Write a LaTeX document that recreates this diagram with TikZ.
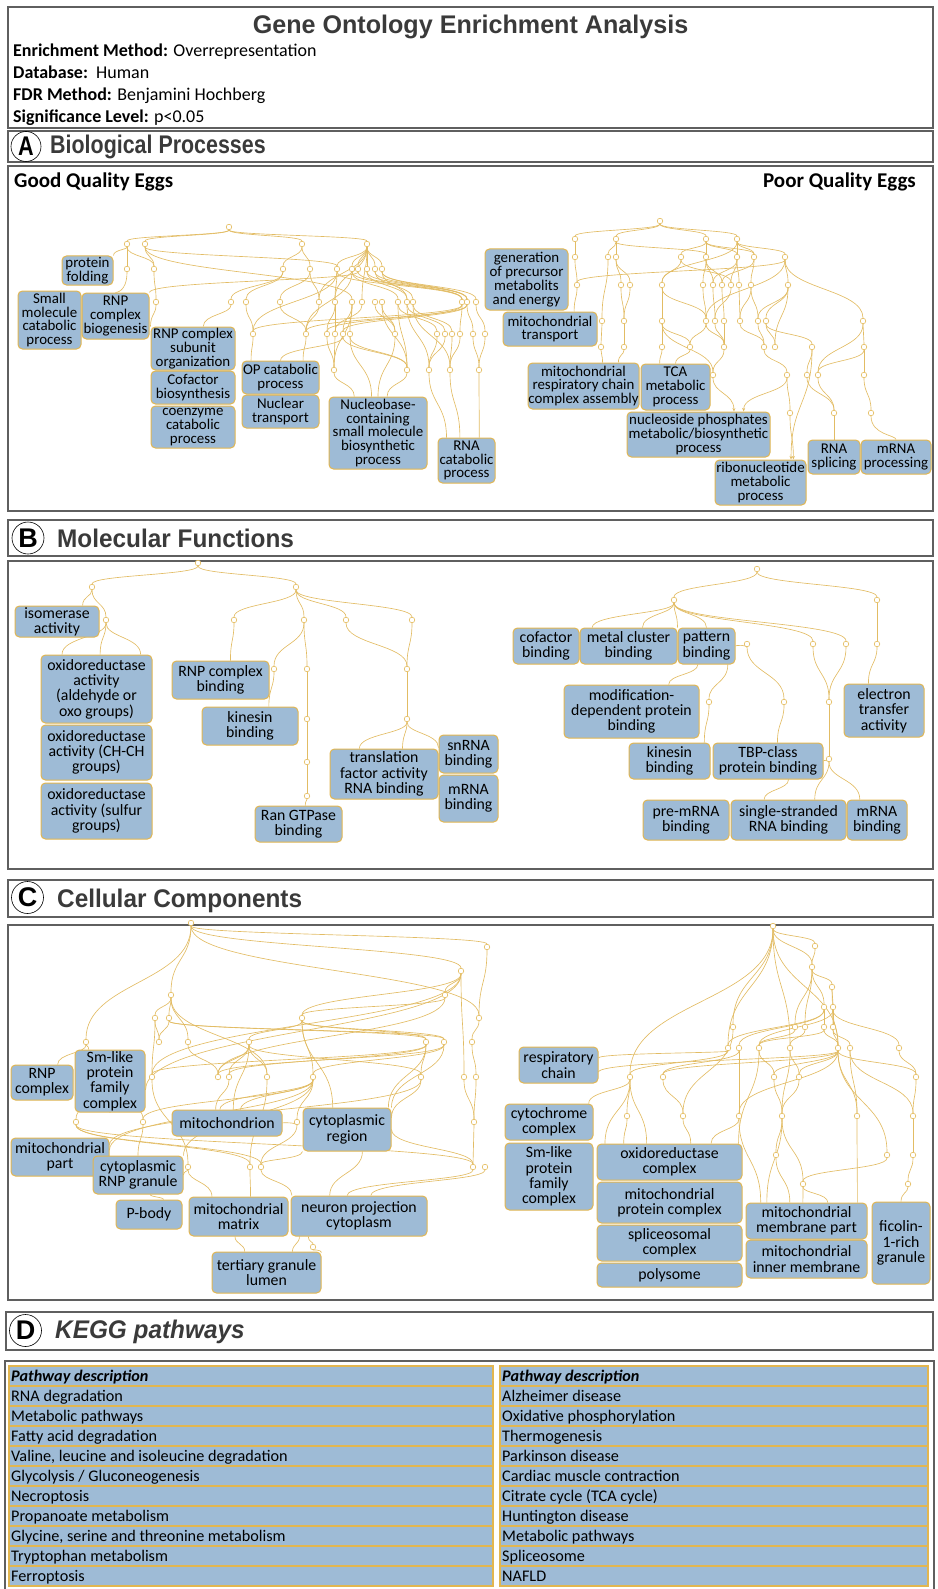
\documentclass[tikz,border=0pt]{standalone}
\usepackage{fontspec}
\setmainfont{Carlito}
\newfontfamily\hfont{Liberation Sans}
\usetikzlibrary{calc,arrows.meta}
\definecolor{boxblue}{RGB}{158,187,214}
\definecolor{boxgold}{RGB}{226,182,80}
\definecolor{edgegold}{RGB}{226,188,100}
\definecolor{framegray}{RGB}{95,95,95}
\definecolor{headgray}{RGB}{58,58,58}
\pgfdeclarelayer{edgelayer}
\pgfsetlayers{edgelayer,main}
\tikzset{
 secframe/.style={draw=framegray, line width=1.3pt},
 gobox/.style={fill=boxblue, draw=boxgold, line width=1pt, rounded corners=4.5pt, align=center, inner sep=0pt},
 boxA/.style={gobox, font=\fontsize{14.9}{13.8}\selectfont},
 boxB/.style={gobox, font=\fontsize{15.8}{15.3}\selectfont},
 cir/.style={circle, draw=boxgold, fill=white, line width=0.55pt, inner sep=0pt, minimum size=5.6pt},
 ed/.style={draw=edgegold, line width=0.65pt},
 edar/.style={ed, -{Stealth[length=3.5pt,width=3pt]}},
 letter/.style={circle, draw=black, line width=0.6pt, inner sep=0pt, minimum size=30pt, font=\hfont\bfseries\fontsize{27}{27}\selectfont},
 heading/.style={anchor=base west, inner sep=0pt, text=headgray, font=\hfont\bfseries\fontsize{25.5}{25.5}\selectfont},
 info/.style={anchor=base west, inner sep=0pt, font=\fontsize{18}{18}\selectfont},
 kegg/.style={anchor=base west, inner sep=0pt, font=\fontsize{16.2}{16.2}\selectfont},
}
\newcommand\gbx[6]{\node[#1, minimum width=#4pt, minimum height=#5pt] (#2) at (#3) {#6};}
\newcommand\cirs[1]{\foreach \cn/\cx/\cy in {#1} {\node[cir] (\cn) at (\cx,\cy) {};}}
\newcommand\eds[2][ed]{\foreach \ea/\eb in {#2} {\draw[#1] (\ea) .. controls ($(\ea)!0.5!(\ea |- \eb)$) and ($(\eb)!0.5!(\eb |- \ea)$) .. (\eb);}}
\begin{document}
\begin{tikzpicture}[x=1pt,y=-1pt]
\useasboundingbox (0,0) rectangle (937,1589);
% ---------- frames ----------
\draw[secframe] (8,7) rectangle (933,128);
\draw[secframe] (8,131) rectangle (933,162);
\draw[secframe] (8,166) rectangle (933,511);
\draw[secframe] (8,520) rectangle (933,556);
\draw[secframe] (8,561) rectangle (933,869);
\draw[secframe] (8,880) rectangle (933,917);
\draw[secframe] (8,925) rectangle (933,1300);
\draw[secframe] (6,1312) rectangle (933,1350);
\draw[secframe] (5,1361) rectangle (934,1600);
% ---------- header ----------
\node[anchor=base, inner sep=0pt, text=headgray, font=\hfont\bfseries\fontsize{25.5}{25.5}\selectfont] (title) at (470.5,34) {\scalebox{0.985}[1]{Gene Ontology Enrichment Analysis}};
\node[info] (i1) at (13,57) {\textbf{Enrichment Method:} Overrepresentation};
\node[info] (i2) at (13,79) {\textbf{Database:}\ \ Human};
\node[info] (i3) at (13,101) {\textbf{FDR Method:} Benjamini Hochberg};
\node[info] (i4) at (13,123) {\textbf{Significance Level:} p<0.05};
% ---------- section headings ----------
\node[letter] (la) at (26,146.5) {\scalebox{0.8}[1]{A}};
\node[heading] (ha) at (50,154) {\scalebox{0.84}[1]{Biological Processes}};
\node[letter, minimum size=32pt] (lb) at (28,538) {B};
\node[heading] (hb) at (57,547) {\scalebox{0.955}[1]{Molecular Functions}};
\node[letter, minimum size=32pt] (lc) at (27.5,897.5) {C};
\node[heading] (hc) at (57,907) {\scalebox{0.955}[1]{Cellular Components}};
\node[letter, minimum size=32pt] (ld) at (25.5,1330.5) {D};
\node[heading] (hd) at (55,1338) {\scalebox{0.955}[1]{\itshape KEGG pathways}};
\node[anchor=base west, inner sep=0pt, font=\bfseries\fontsize{21}{21}\selectfont] (good) at (14,188) {Good Quality Eggs};
\node[anchor=base east, inner sep=0pt, font=\bfseries\fontsize{21}{21}\selectfont] (poor) at (916,188) {Poor Quality Eggs};
% ---------- section A boxes ----------
\gbx{boxA}{pf}{87.5,270.5}{51}{29}{protein\\folding}
\gbx{boxA}{smc}{49.5,320}{63}{58}{Small\\molecule\\catabolic\\process}
\gbx{boxA}{rnpb}{115.5,316}{67}{46}{RNP\\complex\\biogenesis}
\gbx{boxA}{rnpso}{193,348.5}{84}{43}{RNP complex\\subunit\\organization}
\gbx{boxA}{cofb}{193,387.5}{84}{33}{Cofactor\\biosynthesis}
\gbx{boxA}{coen}{193,427}{84}{42}{coenzyme\\catabolic\\process}
\gbx{boxA}{opc}{280.5,377.5}{77}{33}{OP catabolic\\process}
\gbx{boxA}{nuct}{280.5,411.5}{77}{33}{Nuclear\\transport}
\gbx{boxA}{nucb}{378,433}{98}{72}{Nucleobase-\\containing\\small molecule\\biosynthetic\\process}
\gbx{boxA}{rnac}{466.5,460.5}{57}{45}{RNA\\catabolic\\process}
\gbx{boxA}{gen}{526.5,279.5}{83}{61}{generation\\of precursor\\metabolits\\and energy}
\gbx{boxA}{mtt}{550,329}{94}{34}{mitochondrial\\transport}
\gbx{boxA}{mrc}{583.5,386}{111}{46}{mitochondrial\\respiratory chain\\complex assembly}
\gbx{boxA}{tca}{675.5,387}{69}{46}{TCA\\metabolic\\process}
\gbx{boxA}{nps}{698.5,434.5}{143}{45}{nucleoside phosphates\\metabolic/biosynthetic\\process}
\gbx{boxA}{ribo}{760.5,482.5}{91}{45}{ribonucleotide\\metabolic\\process}
\gbx{boxA}{rnas}{834,457}{52}{34}{RNA\\splicing}
\gbx{boxA}{mrnap}{896,457}{70}{34}{mRNA\\processing}
% ---------- section B boxes ----------
\gbx{boxB}{iso}{57,621.5}{84}{31}{isomerase\\activity}
\gbx{boxB}{ox1}{96.5,689}{111}{68}{oxidoreductase\\activity\\(aldehyde or\\oxo groups)}
\gbx{boxB}{ox2}{96.5,752.5}{111}{55}{oxidoreductase\\activity (CH-CH\\groups)}
\gbx{boxB}{ox3}{96.5,811}{111}{56}{oxidoreductase\\activity (sulfur\\groups)}
\gbx{boxB}{rnpcb}{220.5,680}{97}{38}{RNP complex\\binding}
\gbx{boxB}{kin1}{250,726}{96}{38}{kinesin\\binding}
\gbx{boxB}{ran}{298.5,824}{87}{36}{Ran GTPase\\binding}
\gbx{boxB}{tf}{384,774}{108}{50}{translation\\factor activity\\RNA binding}
\gbx{boxB}{snr}{468.5,754}{59}{38}{snRNA\\binding}
\gbx{boxB}{mr1}{468.5,798.5}{59}{47}{mRNA\\binding}
\gbx{boxB}{cofbd}{546,646}{66}{36}{cofactor\\binding}
\gbx{boxB}{mcb}{628.5,646}{97}{36}{metal cluster\\binding}
\gbx{boxB}{patb}{706.5,646}{57}{36}{pattern\\binding}
\gbx{boxB}{mdpb}{631.5,711.5}{135}{53}{modification-\\dependent protein\\binding}
\gbx{boxB}{kin2}{669.5,761}{81}{36}{kinesin\\binding}
\gbx{boxB}{tbp}{768,761}{110}{36}{TBP-class\\protein binding}
\gbx{boxB}{prem}{686,820}{86}{40}{pre-mRNA\\binding}
\gbx{boxB}{ssrna}{788.5,820}{115}{40}{single-stranded\\RNA binding}
\gbx{boxB}{mr2}{877,820}{60}{40}{mRNA\\binding}
\gbx{boxB}{eta}{884,710.5}{80}{53}{electron\\transfer\\activity}
% ---------- section C boxes ----------
\gbx{boxB}{rnpc}{42,1082.5}{62}{35}{RNP\\complex}
\gbx{boxB}{sml1}{110,1081}{70}{62}{Sm-like\\protein\\family\\complex}
\gbx{boxB}{mito}{227,1123}{110}{26}{mitochondrion}
\gbx{boxB}{cytr}{347,1129.5}{88}{43}{cytoplasmic\\region}
\gbx{boxB}{mitp}{60,1157}{98}{38}{mitochondrial\\part}
\gbx{boxB}{crnp}{138,1175}{90}{38}{cytoplasmic\\RNP granule}
\gbx{boxB}{pb}{149,1214.5}{66}{29}{P-body}
\gbx{boxB}{mm}{238.5,1216.5}{99}{39}{mitochondrial\\matrix}
\gbx{boxB}{npc}{359,1216}{136}{40}{neuron projection\\cytoplasm}
\gbx{boxB}{tgl}{266.5,1272.5}{109}{41}{tertiary granule\\lumen}
\gbx{boxB}{rc}{558.5,1065}{79}{36}{respiratory\\chain}
\gbx{boxB}{cc}{549,1122}{88}{36}{cytochrome\\complex}
\gbx{boxB}{sml2}{549,1176.5}{88}{67}{Sm-like\\protein\\family\\complex}
\gbx{boxB}{oxc}{669.5,1162}{145}{36}{oxidoreductase\\complex}
\gbx{boxB}{mpc}{669.5,1202.5}{145}{41}{mitochondrial\\protein complex}
\gbx{boxB}{spl}{669.5,1243}{145}{36}{spliceosomal\\complex}
\gbx{boxB}{poly}{669.5,1275}{145}{24}{polysome}
\gbx{boxB}{mmp}{806.5,1221}{121}{36}{mitochondrial\\membrane part}
\gbx{boxB}{mim}{806.5,1259}{121}{38}{mitochondrial\\inner membrane}
\gbx{boxB}{fic}{901,1243}{58}{82}{ficolin-\\1-rich\\granule}
% ---------- small circles ----------
\cirs{a0/229/227, a1/127/244, a2/145/244, a3/302/244, a4/367/244,
b1/127/269, b2/154/269, b3/283/269, b4/310/269, b5/337/269, b6/352/269, b7/358/269, b8/367/269, b9/375/269, b10/382/269,
c1/156/302, c2/231/302, c3/246/302, c4/280/302, c5/319/302, c6/335/302, c7/352/302, c8/362/302, c9/375/302, c10/382/302, c11/398/302, c12/407/302, c13/413/302, c14/462/302, c15/467/302, c16/476/302,
d1/253/334, d2/306/334, d3/327/334, d4/335/334, d5/343/334, d6/350/334, d7/395/334, d8/437/334, d9/445/334, d10/452/334, d11/460/334, d12/473/334, d13/485/334,
e1/334/370, e2/407/370, e3/429/370, e4/450/370, e5/479/370}
\cirs{r0/660/221, r1/575/239, r2/616/239, r3/706/239, r4/737/239,
s1/575/257, s2/608/257, s3/616/257, s4/681/257, s5/706/257, s6/737/257, s7/754/257, s8/785/257,
t1/577/285, t2/621/285, t3/630/285, t4/662/285, t5/703/285, t6/713/285, t7/722/285, t8/731/285, t9/739/285, t10/751/285, t11/788/285,
u1/602/321, u2/624/321, u3/662/321, u4/706/321, u5/715/321, u6/724/321, u7/740/321, u8/758/321, u9/766/321, u10/863/321,
v1/601/347, v2/624/347, v3/662/347, v4/690/347, v5/724/347, v6/764/347, v7/775/347, v8/812/347, v9/864/347,
w1/713/375, w2/787/375, w3/807/375, w4/818/375, w5/864/375,
x1/790/413, x2/834/413, x3/871/413}
\cirs{m0/198/563, m1/92/587, m2/296/587, m3/106/620, m4/234/620, m5/304/620, m6/346/620, m7/412/620, m8/274/669, m9/307/669, m10/407/669, m11/307/719, m12/407/719, m13/307/762, m14/307/796,
n0/757/569, n1/674/600, n2/877/600, n3/747/644, n4/813/644, n5/846/644, n6/877/644, n7/709/702, n8/784/702, n9/829/702, n10/829/759}
\cirs{k0/191/923, k1/461/971, k2/445/995, k3/171/995, k4/487/947, k5/155/1018, k6/169/1018, k7/302/1018, k8/479/1018,
k9/86/1042, k10/159/1042, k11/188/1042, k12/249/1042, k13/426/1042, k14/444/1042, k15/472/1042,
k16/152/1077, k17/218/1077, k18/229/1077, k19/267/1077, k20/313/1077, k21/421/1077, k22/464/1077, k23/476/1077,
k24/76/1122, k25/143/1122, k26/297/1122, k27/474/1122, k28/188/1167, k29/250/1167, k30/261/1167, k31/473/1167, k32/485/1167, k33/313/1247}
\cirs{q0/773/926, q1/815/946, q2/812/967, q3/832/987, q4/824/1007, q5/833/1007,
q6/733/1027, q7/795/1027, q8/805/1027, q9/824/1027, q10/833/1027,
q11/728/1048, q12/739/1048, q13/759/1048, q14/790/1048, q15/838/1048, q16/850/1048, q17/899/1048,
q18/630/1077, q19/663/1077, q20/774/1077, q21/799/1077, q22/916/1077,
q23/627/1116, q24/683/1116, q25/739/1116, q26/782/1116, q27/857/1116, q28/913/1116,
q29/776/1155, q30/887/1155, q31/913/1155, q32/803/1184, q33/908/1184}
% ---------- connectors ----------
\begin{pgfonlayer}{edgelayer}
% A left
\eds{a0/a1, a0/a2, a0/a3, a0/a4, a1/pf.north east, a1/b1, a1/b2, a2/b2, a2/b5, a2/c7, a3/b3, a3/b4,
a4/b5, a4/b6, a4/b7, a4/b8, a4/b9, a4/b10, a4/c6, a4/c8, a4/c5,
b1/rnpb, b7/rnpb.north east, b2/c1, c1/rnpso.north west,
b3/c2, b3/c3, b4/c4, b4/c5, c2/rnpso.65, c3/d1, d1/opc.150, c4/d2, d2/opc.37, c5/d2, d5/opc.north,
b5/c6, b5/c14, b6/c14, b7/c14, b8/c15, b9/c15, b10/c15, b10/c16, b6/c11, b8/c12, b9/c13, b10/c12,
c6/d3, c6/d4, c7/d5, c7/d6, c8/d4, c9/d7, c10/d7, c11/d8, c12/d9, c13/d10, c14/d11, c15/d12, c16/d13,
c14/d1, c15/d2, b5/d1, b6/d2, c14/d3, c15/d5,
d3/e1, d4/e1, d5/e2, d6/e2, d7/nucb.north, e1/nucb.123, e2/nucb.76, d6/nucb.100,
d8/e3, d9/e3, d10/e4, d11/e4, e3/rnac.131, e4/rnac.106, d12/e5, d13/e5, e5/rnac.61,
c7/e1, c10/e2, c12/e3, c11/e2, c13/e4}
% A right
\eds{r0/r1, r0/r2, r0/r3, r0/r4, r1/s1, s1/t1, t1/mtt.36, s8/t1,
r2/s2, r2/s3, r2/s5, s2/u1, s3/t2, s3/t3, t2/u2, t3/u2, u1/v1, u2/v2, v1/mrc.51, v2/mrc.34,
r3/s4, r3/s5, r3/s6, r3/s7, r4/s6, r4/s7, r4/s8, r4/t4,
s4/t4, t4/u3, u3/v3, v3/tca.124, s4/t8,
s5/t5, s5/t6, s5/t7, s6/t8, s6/t9, s7/t10, s8/t11, s8/u4, s8/u10, s6/t6, s7/t7,
t5/u4, t6/u5, t7/u6, t8/u5, t9/u7, t10/u8, t11/u9, t4/u4, t10/u7, t11/u8,
u4/v5, u5/v5, u6/v5, u7/v6, u8/v6, u9/v7, u3/v4, u4/v4, v4/tca.north, v5/w1, u3/w1, v6/w2,
u10/v9, v9/w5, w5/x3, x3/mrnap, w3/x2, w4/x2, x2/rnas, u9/v8, v8/w3, v9/w4, u10/w4, w2/x1, t11/v7}
\eds[edar]{w1/nps.33, w2/nps.27, x1/ribo.35, v8/ribo.37}
% B left
\eds{m0/m1, m0/m2, m1/iso.32, m1/m3, m3/ox1.135, m3/ox1.84, m3/ox1.38,
m2/m4, m2/m5, m2/m6, m2/m7, m4/rnpcb.63, m5/m8, m5/m9, m8/kin1.46, m9/m11, m11/m13, m13/m14, m14/ran.70,
m6/m10, m7/m10, m10/m12, m12/tf.134, m12/tf.54, m12/snr.168}
% B right
\eds{n0/n1, n0/n2, n1/mcb.153, n1/mcb.53, n1/patb.north west, n1/patb.north, n1/n4, n1/n5,
patb.east/n3, patb.-115/mdpb.36, patb.-41/n7, n7/kin2.28, n3/n8, n8/tbp.63,
n4/n9, n5/n9, n9/n10, n10/ssrna.38, n10/mr2.130, n10/tbp.east, tbp.-42/ssrna.140, n2/n6, n6/eta.120}
% C left
\eds{k0/k9, k9/rnpc.49, k9/sml1.124, k0/k3, k0/k1, k0/k4, k0/k8,
k3/k5, k3/k6, k3/k11, k3/k19, k5/k10, k5/k16, k6/k10, k6/k13, k6/k14, k11/k17,
k1/k2, k1/k7, k1/k22, k1/sml1.-14, k1/k16, k2/k7, k2/k17,
k7/k12, k7/k20, k7/k13, k7/k14, k7/cytr.123,
k12/k17, k12/k18, k12/k19, k12/k21, k12/mito.65,
k13/k16, k14/k17, k13/k18, k13/k21, k13/cytr.28, k14/cytr.north east, k21/cytr.15,
k20/mito.45, k20/mito.118, k20/k26, k20/mitp.8, k21/mitp.14, k20/crnp.north east, k20/k25, k18/mito.130, k19/k29,
sml1/k24, sml1/k25, k24/k29, k24/k30, k24/k31, k25/crnp.north, mito.east/k26,
crnp.east/k28, k28/mm.143, k29/mm.59, k30/npc.163, cytr.south west/k30,
npc.-158/k33, k33/tgl.20, mm.-100/tgl.136, npc.-161/tgl.39,
crnp.-58/pb.46, cytr.-55/npc.145, k31/npc.120, k32/npc.60, cytr.east/k31,
k4/k8, k8/k15, k15/k23, k23/k27, k27/k31, k22/k27, k14/k20, k16/k28, k26/k30}
% C right
\eds{q0/q1, q0/q2, q0/q6, q0/q18, q0/q11, q0/q15, q0/q14,
q1/q2, q2/q3, q2/q4, q2/q7, q2/q8, q3/q5, q3/q10, q4/q9, q5/q10, q4/q11, q4/q12, q5/q13, q5/q15,
q9/q15, q10/q15, q10/q16, q9/q13, q8/q14, q7/q13, q5/q17,
q17/q22, q22/q28, q28/q31, q31/q33, q33/fic.north,
q15/q22, q15/q21, q15/q20, q15/q27, q15/q30, q15/rc.-10, q15/q19, q11/rc.10,
q11/q18, q12/q19, q18/q23, q18/oxc.164, q18/cc.25, q23/oxc.158, q18/oxc.141, q19/q24, q24/oxc.41,
q12/q25, q25/oxc.24, q6/q24, q13/oxc.15,
q20/q26, q21/q26, q26/mmp.155, q26/q29, q29/mmp.132, q26/q32, q32/mmp.101, q32/mmp.41, q27/mmp.20,
q13/q20, q14/q21, q16/q27, q16/q28, q15/q25, q25/mmp.158, q30/q32, q14/q26}
\end{pgfonlayer}
% ---------- KEGG tables ----------
\fill[boxblue] (9,1366) rectangle (493,1586);
\fill[boxblue] (500,1366) rectangle (928,1586);
\foreach \i in {0,...,11} {
  \draw[boxgold, line width=1.2pt] (9,{1366+20*\i}) -- (493,{1366+20*\i});
  \draw[boxgold, line width=1.2pt] (500,{1366+20*\i}) -- (928,{1366+20*\i});
}
\draw[boxgold, line width=1.2pt] (9,1366) rectangle (493,1586);
\draw[boxgold, line width=1.2pt] (500,1366) rectangle (928,1586);
\foreach \t [count=\i from 0] in {{\bfseries\itshape Pathway description}, {RNA degradation}, {Metabolic pathways}, {Fatty acid degradation}, {Valine, leucine and isoleucine degradation}, {Glycolysis / Gluconeogenesis}, {Necroptosis}, {Propanoate metabolism}, {Glycine, serine and threonine metabolism}, {Tryptophan metabolism}, {Ferroptosis}}
  {\node[kegg] (kl\i) at (11,{1366+20*\i+15}) {\t};}
\foreach \t [count=\i from 0] in {{\bfseries\itshape Pathway description}, {Alzheimer disease}, {Oxidative phosphorylation}, {Thermogenesis}, {Parkinson disease}, {Cardiac muscle contraction}, {Citrate cycle (TCA cycle)}, {Huntington disease}, {Metabolic pathways}, {Spliceosome}, {NAFLD}}
  {\node[kegg] (kr\i) at (502,{1366+20*\i+15}) {\t};}
\end{tikzpicture}
\end{document}
